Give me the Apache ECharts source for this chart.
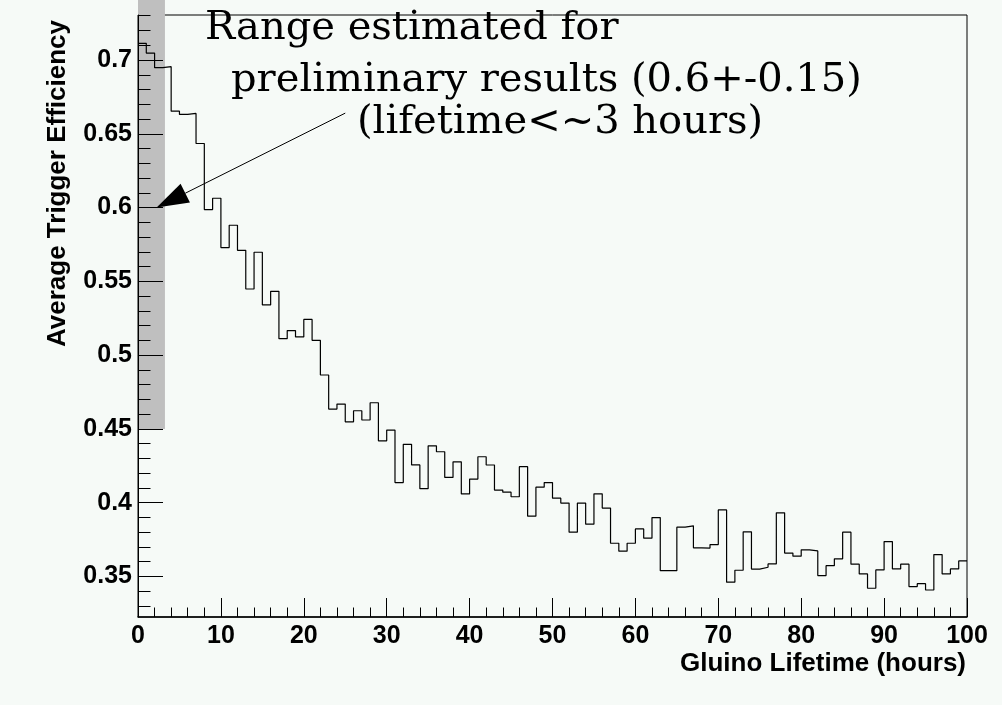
<!DOCTYPE html>
<html>
<head>
<meta charset="utf-8">
<script src="https://cdn.jsdelivr.net/npm/echarts@6/dist/echarts.min.js"></script>
<style>
html,body{margin:0;padding:0;background:#f6faf7;}
#chart{width:1002px;height:705px;}
</style>
</head>
<body>
<div id="chart"></div>
<script>
// ---- data ----
const binStart = 0;
const binWidth = 1;
const efficiency = [
  0.7113, 0.7047, 0.6948, 0.6955, 0.6653, 0.6631, 0.6638, 0.6434, 0.5986, 0.6063,
  0.5729, 0.5880, 0.5710, 0.5448, 0.5697, 0.5340, 0.5432, 0.5111, 0.5166, 0.5123,
  0.5242, 0.5100, 0.4865, 0.4634, 0.4668, 0.4548, 0.4623, 0.4560, 0.4677, 0.4419,
  0.4492, 0.4136, 0.4395, 0.4256, 0.4095, 0.4385, 0.4345, 0.4171, 0.4277, 0.4059,
  0.4160, 0.4311, 0.4255, 0.4085, 0.4071, 0.4040, 0.4244, 0.3908, 0.4105, 0.4136,
  0.4030, 0.3997, 0.3800, 0.3997, 0.3854, 0.4060, 0.3963, 0.3725, 0.3671, 0.3725,
  0.3822, 0.3759, 0.3899, 0.3539, 0.3539, 0.3834, 0.3843, 0.3694, 0.3692, 0.3716,
  0.3951, 0.3461, 0.3542, 0.3802, 0.3550, 0.3562, 0.3585, 0.3931, 0.3658, 0.3637,
  0.3680, 0.3673, 0.3506, 0.3573, 0.3619, 0.3800, 0.3583, 0.3517, 0.3420, 0.3544,
  0.3736, 0.3551, 0.3583, 0.3431, 0.3451, 0.3408, 0.3648, 0.3517, 0.3551, 0.3605
];
const xTickValues = [0, 10, 20, 30, 40, 50, 60, 70, 80, 90, 100];
const xTickLabels = ['0', '10', '20', '30', '40', '50', '60', '70', '80', '90', '100'];
const yTickValues = [0.35, 0.40, 0.45, 0.50, 0.55, 0.60, 0.65, 0.70];
const yTickLabels = ['0.35', '0.4', '0.45', '0.5', '0.55', '0.6', '0.65', '0.7'];
const yMinorTickValues = [0.33, 0.34, 0.36, 0.37, 0.38, 0.39, 0.41, 0.42, 0.43, 0.44,
  0.46, 0.47, 0.48, 0.49, 0.51, 0.52, 0.53, 0.54, 0.56, 0.57, 0.58, 0.59,
  0.61, 0.62, 0.63, 0.64, 0.66, 0.67, 0.68, 0.69, 0.71, 0.72, 0.73];
const yRange = [0.3225, 0.7305];
const xRange = [0, 100];
// shaded range: lifetime 0..~3.25 h, efficiency 0.6 +- 0.15
const bandX = [0, 3.25];
const bandY = [0.45, 0.75];
// arrow from text to (x, 0.6)
const arrowFrom = [25, 0.664];
const arrowTo = [2.25, 0.6];
const noteLines = ['Range estimated for', 'preliminary results (0.6+-0.15)', '(lifetime<~3 hours)'];
const xTitle = 'Gluino Lifetime (hours)';
const yTitle = 'Average Trigger Efficiency';

// ---- build ----
const stepData = efficiency.map((v, i) => [binStart + i * binWidth, v]);
stepData.push([binStart + efficiency.length * binWidth, efficiency[efficiency.length - 1]]);

const SANS = '"Liberation Sans", Arial, Helvetica, sans-serif';
const SERIF = '"DejaVu Serif", "Liberation Serif", serif';
const BG = '#f6faf7';

const chart = echarts.init(document.getElementById('chart'), null, {renderer: 'canvas'});
const option = {
  backgroundColor: BG,
  animation: false,
  grid: {
    left: 138, top: 15, width: 829, height: 602,
    show: true, borderColor: '#000', borderWidth: 1, backgroundColor: BG, z: 0
  },
  xAxis: {
    type: 'value', min: xRange[0], max: xRange[1], interval: 10, z: 3,
    axisLine: {show: true, onZero: false, lineStyle: {color: '#000', width: 1.5}},
    axisTick: {show: true, inside: true, length: 19, lineStyle: {color: '#000', width: 1}},
    minorTick: {show: true, splitNumber: 5, length: 9.5, lineStyle: {color: '#000', width: 1}},
    splitLine: {show: false},
    axisLabel: {
      show: true, margin: 7, color: '#000', fontFamily: SANS, fontWeight: 'bold', fontSize: 25,
      formatter: v => { const k = xTickValues.indexOf(v); return k >= 0 ? xTickLabels[k] : ''; }
    }
  },
  yAxis: [{
    type: 'value', min: yRange[0], max: yRange[1], z: 3,
    axisLine: {show: true, onZero: false, lineStyle: {color: '#000', width: 1}},
    axisTick: {show: true, inside: true, length: 25, customValues: yTickValues, lineStyle: {color: '#000', width: 1}},
    splitLine: {show: false},
    axisLabel: {
      show: true, margin: 6, color: '#000', fontFamily: SANS, fontWeight: 'bold', fontSize: 25,
      customValues: yTickValues,
      formatter: v => { let k = -1; yTickValues.forEach((t, j) => { if (Math.abs(t - v) < 1e-6) k = j; }); return k >= 0 ? yTickLabels[k] : ''; }
    }
  }, {
    type: 'value', min: yRange[0], max: yRange[1], position: 'left', z: 3,
    axisLine: {show: false},
    axisTick: {show: true, inside: true, length: 12.5, customValues: yMinorTickValues, lineStyle: {color: '#000', width: 1}},
    axisLabel: {show: false},
    splitLine: {show: false}
  }],
  series: [{
    type: 'custom', name: 'band', z: 2, clip: false, silent: true,
    data: [[bandX[0], bandY[1], bandX[1], bandY[0]]],
    renderItem: (params, api) => {
      const p1 = api.coord([api.value(0), api.value(1)]);
      const p2 = api.coord([api.value(2), api.value(3)]);
      return {type: 'rect', shape: {x: p1[0], y: p1[1], width: p2[0] - p1[0], height: p2[1] - p1[1]},
        style: {fill: '#bfbfbf'}};
    }
  }, {
    type: 'line', name: 'efficiency', z: 4, step: 'end', showSymbol: false, symbol: 'none',
    data: stepData,
    lineStyle: {color: '#000', width: 1.2},
    silent: true
  }, {
    type: 'custom', name: 'arrow', z: 5, clip: false, silent: true,
    data: [[arrowFrom[0], arrowFrom[1], arrowTo[0], arrowTo[1]]],
    renderItem: (params, api) => {
      const a = api.coord([api.value(0), api.value(1)]);
      const b = api.coord([api.value(2), api.value(3)]);
      const dx = a[0] - b[0], dy = a[1] - b[1];
      const L = Math.sqrt(dx * dx + dy * dy);
      const ux = dx / L, uy = dy / L;
      const headLen = 32, headHalf = 10.5;
      const base = [b[0] + ux * headLen, b[1] + uy * headLen];
      const px = -uy, py = ux;
      return {type: 'group', children: [
        {type: 'line', shape: {x1: a[0], y1: a[1], x2: base[0], y2: base[1]}, style: {stroke: '#000', lineWidth: 1}},
        {type: 'polygon', shape: {points: [b, [base[0] + px * headHalf, base[1] + py * headHalf], [base[0] - px * headHalf, base[1] - py * headHalf]]},
          style: {fill: '#000'}}
      ]};
    }
  }],
  graphic: [
    {type: 'text', left: 205, top: 9, z: 10, style: {text: noteLines[0], font: '40px ' + SERIF, fill: '#000'}},
    {type: 'text', left: 231, top: 61, z: 10, style: {text: noteLines[1], font: '40px ' + SERIF, fill: '#000'}},
    {type: 'text', left: 357, top: 103, z: 10, style: {text: noteLines[2], font: '40px ' + SERIF, fill: '#000'}},
    {type: 'text', right: 36, top: 651, z: 10, style: {text: xTitle, font: 'bold 26px ' + SANS, fill: '#000'}},
    {type: 'text', x: 45, y: 20, rotation: Math.PI / 2, z: 10,
      style: {text: yTitle, font: 'bold 26px ' + SANS, fill: '#000', align: 'right', verticalAlign: 'top'}}
  ]
};
chart.setOption(option);
</script>
</body>
</html>
